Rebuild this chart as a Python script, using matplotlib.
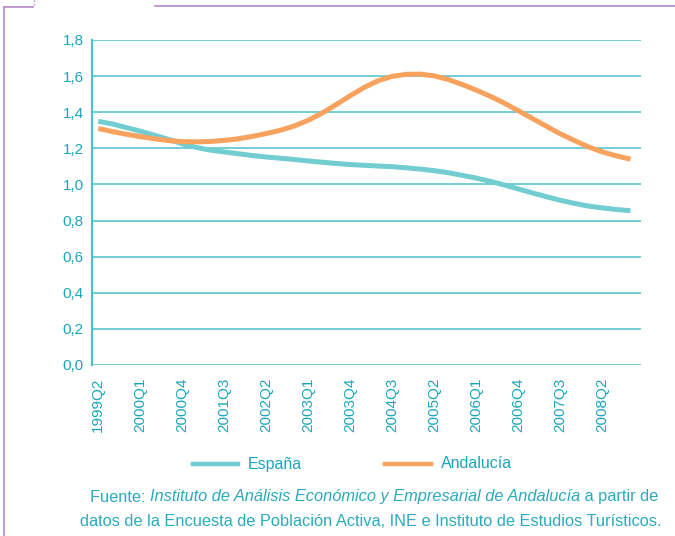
import matplotlib.pyplot as plt
from matplotlib.lines import Line2D

# Quarterly series, 1999Q2 .. 2008Q4
quarters = []
for year in range(1999, 2009):
    for q in range(1, 5):
        if year == 1999 and q == 1:
            continue
        quarters.append(f"{year}Q{q}")

espana = [1.350, 1.335, 1.315, 1.295, 1.273, 1.250, 1.225, 1.205, 1.190, 1.180,
          1.170, 1.160, 1.152, 1.145, 1.138, 1.130, 1.123, 1.116, 1.110, 1.106,
          1.102, 1.098, 1.092, 1.085, 1.076, 1.065, 1.050, 1.035, 1.017, 0.997,
          0.975, 0.953, 0.932, 0.912, 0.895, 0.880, 0.870, 0.861, 0.855]
andalucia = [1.310, 1.293, 1.278, 1.265, 1.253, 1.243, 1.237, 1.236, 1.238, 1.244,
             1.253, 1.266, 1.282, 1.300, 1.324, 1.356, 1.396, 1.443, 1.492, 1.538,
             1.575, 1.599, 1.610, 1.611, 1.601, 1.581, 1.553, 1.522, 1.488, 1.450,
             1.408, 1.365, 1.322, 1.280, 1.243, 1.208, 1.180, 1.158, 1.140]

y_ticks = [0.0, 0.2, 0.4, 0.6, 0.8, 1.0, 1.2, 1.4, 1.6, 1.8]

teal_text = "#1ba6b9"
grid_col = "#4fc0ca"
c_esp = "#72cdd1"
c_and = "#f8a25e"
purple = "#b886c8"

plt.rcParams["font.family"] = ["Liberation Sans", "DejaVu Sans"]

fig = plt.figure(figsize=(6.75, 5.36), dpi=100)
ax = fig.add_axes([92 / 675, 1 - 365 / 536, (641 - 92) / 675, (365 - 40) / 536])

x = list(range(len(quarters)))
ax.plot(x, espana, color=c_esp, lw=3.6, solid_capstyle="butt", zorder=3)
ax.plot(x, andalucia, color=c_and, lw=3.6, solid_capstyle="butt", zorder=4)

ax.set_ylim(0, 1.8)
ax.set_xlim(-0.45, 38.75)
ax.set_yticks(y_ticks)
ax.set_yticklabels([f"{v:.1f}".replace(".", ",") for v in y_ticks],
                   color=teal_text, fontsize=11)
ax.set_xticks(x[::3])
ax.set_xticklabels(quarters[::3], rotation=90, color=teal_text, fontsize=11)
ax.tick_params(length=0, pad=6)
ax.tick_params(axis="x", pad=9)
ax.yaxis.grid(True, color=grid_col, lw=1.1)
ax.set_axisbelow(True)
for s in ["top", "right", "bottom"]:
    ax.spines[s].set_visible(False)
ax.spines["left"].set_color(grid_col)
ax.spines["left"].set_linewidth(1.6)

# legend
fig.add_artist(Line2D([193 / 675, 238 / 675], [1 - 464 / 536] * 2, color=c_esp, lw=3.2))
fig.text(248 / 675, 1 - 464 / 536, "España", color=teal_text, fontsize=11.5, va="center")
fig.add_artist(Line2D([385 / 675, 431 / 675], [1 - 464 / 536] * 2, color=c_and, lw=3.2))
fig.text(441 / 675, 1 - 464 / 536, "Andalucía", color=teal_text, fontsize=11.5, va="center")

# source note, mixed regular / italic on the first line
src_col = "#2aabbb"
fs = 11.8
renderer = fig.canvas.get_renderer()
parts = [("Fuente: ", "normal"),
         ("Instituto de Análisis Económico y Empresarial de Andalucía", "italic"),
         (" a partir de", "normal")]
texts = [fig.text(0, 1 - 497 / 536, s, style=st, color=src_col, fontsize=fs, va="center")
         for s, st in parts]
widths = [t.get_window_extent(renderer).width for t in texts]
x0 = 658 - sum(widths)
for t, w in zip(texts, widths):
    t.set_x(x0 / 675)
    x0 += w
fig.text(661 / 675, 1 - 521 / 536,
         "datos de la Encuesta de Población Activa, INE e Instituto de Estudios Turísticos.",
         color=src_col, fontsize=fs, va="center", ha="right")

# decorative frame
fig.add_artist(Line2D([155 / 675, 1.0], [1 - 6 / 536] * 2, color=purple, lw=1.2))
fig.add_artist(Line2D([4 / 675, 4 / 675], [1 - 7 / 536, 0], color=purple, lw=1.2))
fig.add_artist(Line2D([4 / 675, 33 / 675], [1 - 7 / 536] * 2, color=purple, lw=1.2))
fig.add_artist(Line2D([34 / 675, 34 / 675], [1.0, 1 - 7 / 536], color=purple, lw=1.0, ls=":"))

fig.savefig("out.png", dpi=100)
